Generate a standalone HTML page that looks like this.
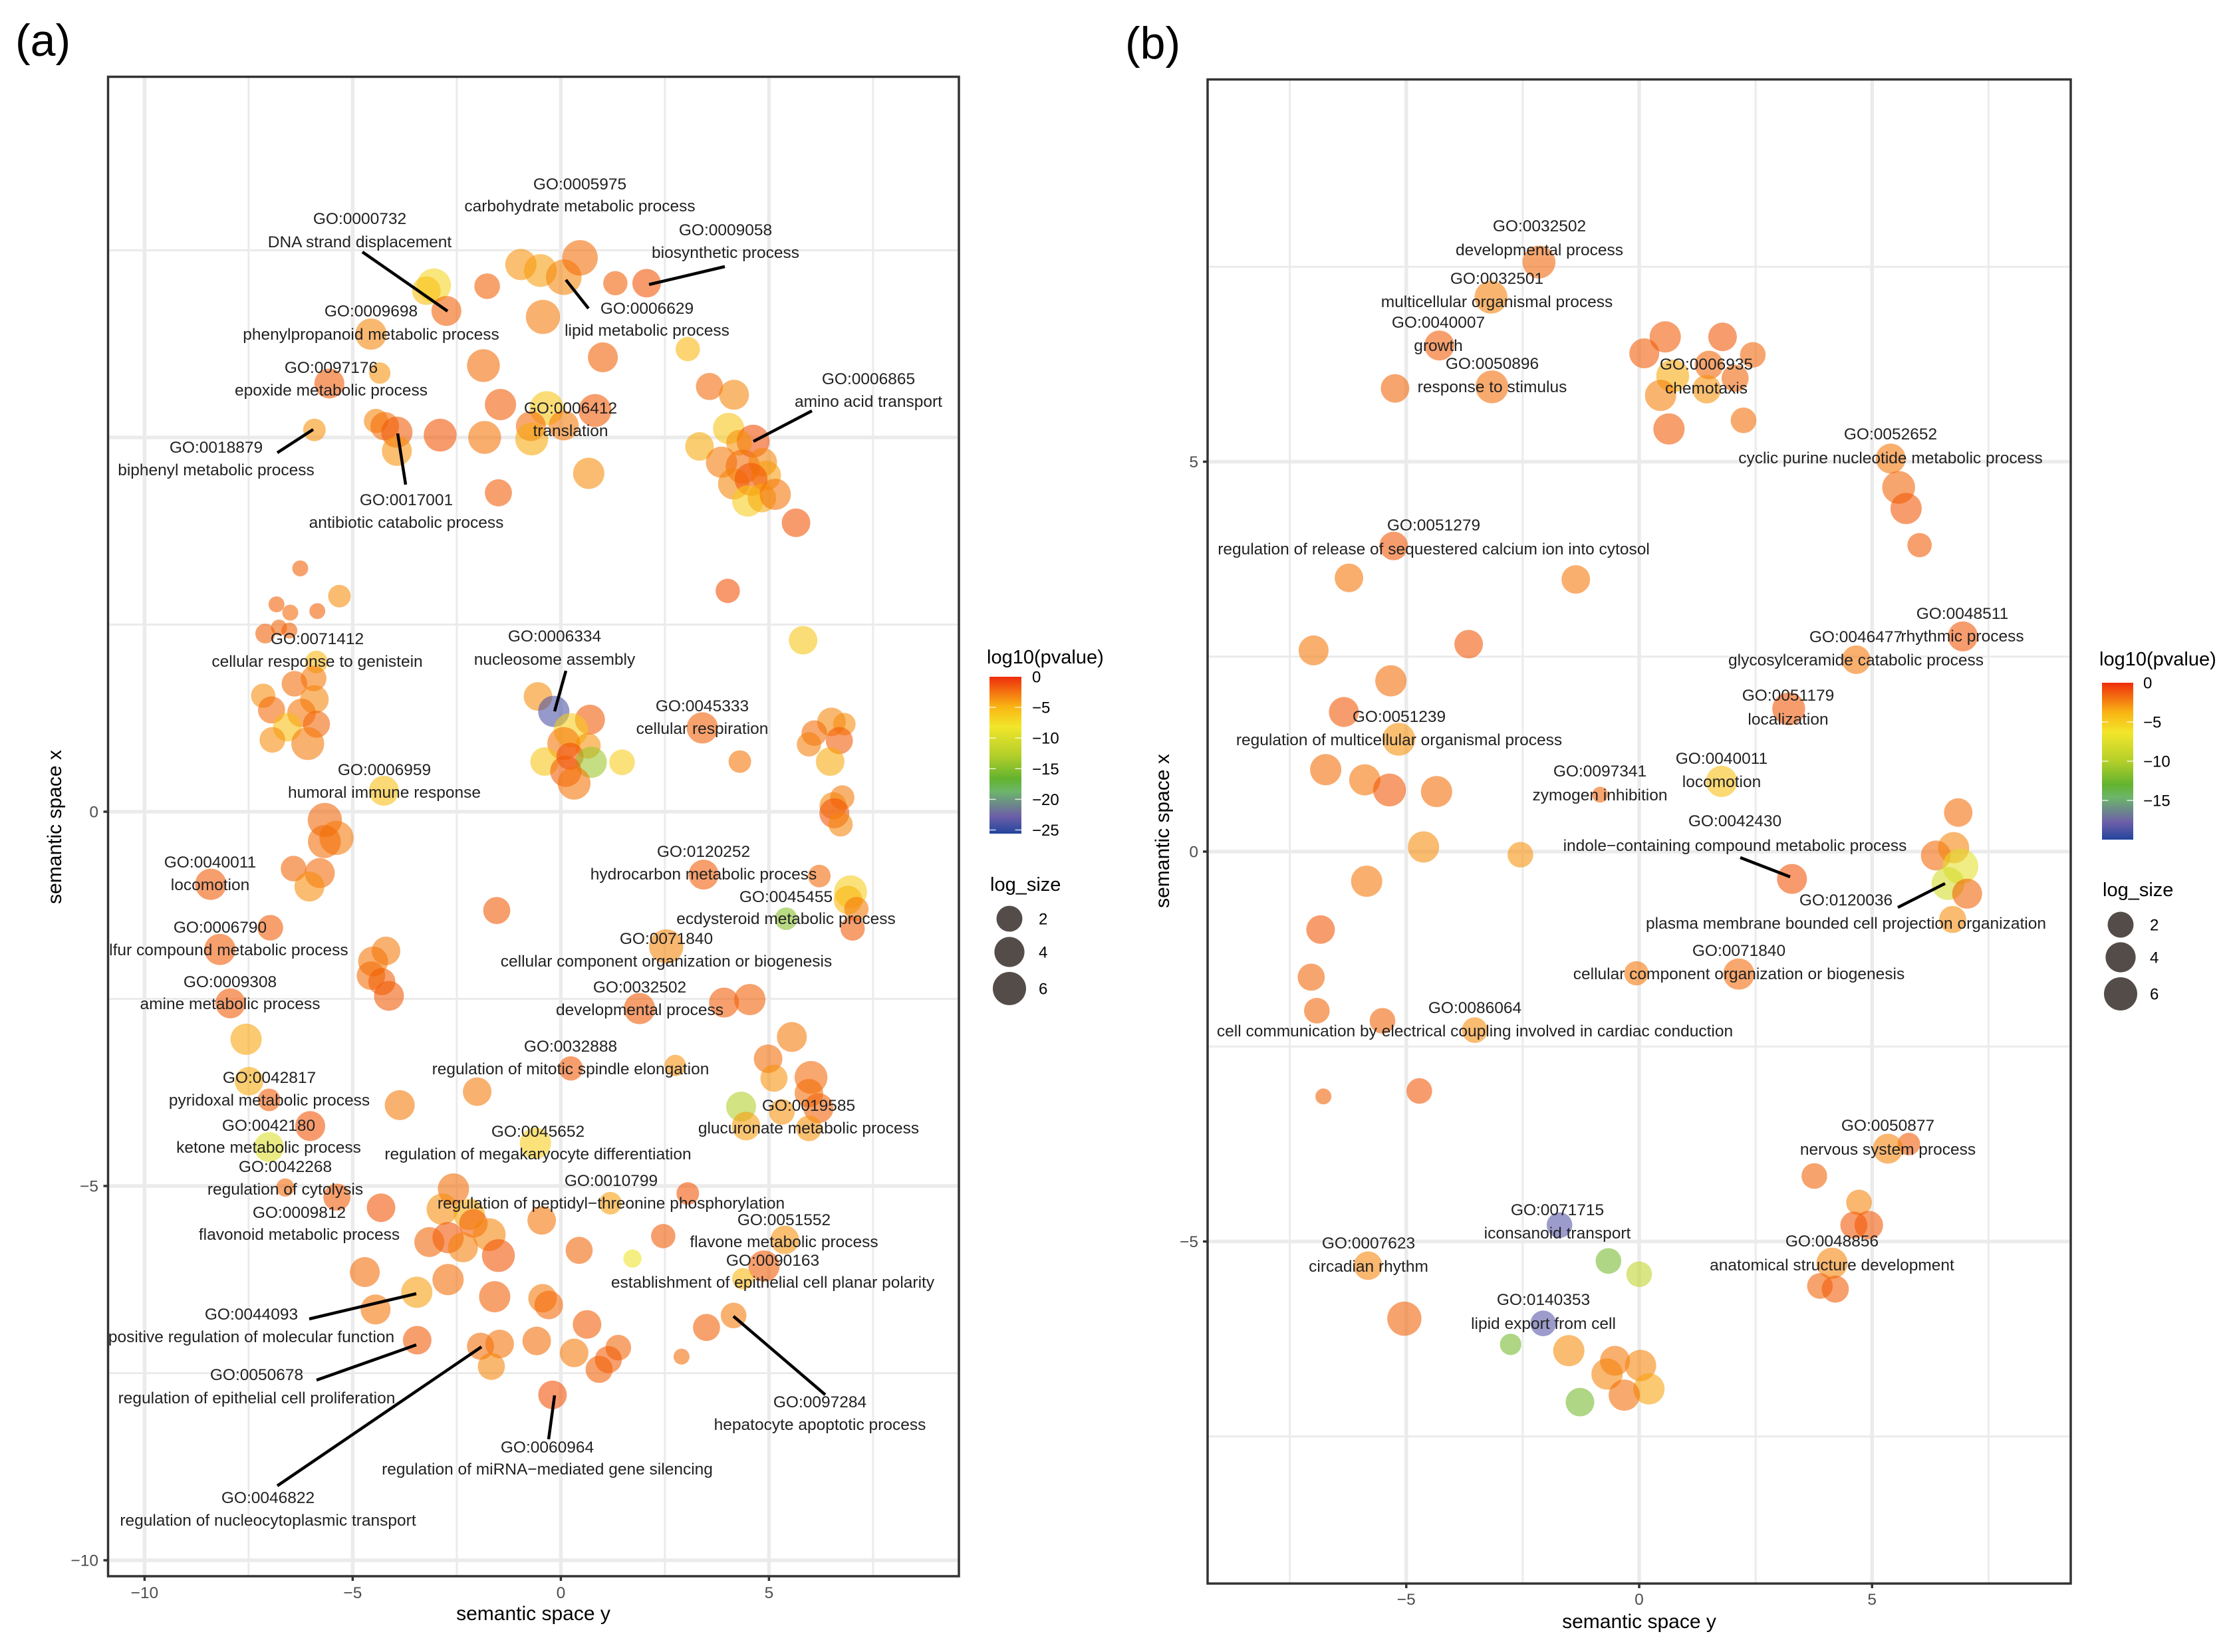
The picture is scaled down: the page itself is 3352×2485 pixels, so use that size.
<!DOCTYPE html>
<html lang="en">
<head>
<meta charset="utf-8">
<title>Semantic space GO term scatter plots</title>
<style>
html,body{margin:0;padding:0;background:#fff;}
svg{display:block;}
text{font-family:"Liberation Sans",sans-serif;}
.lb text{font-size:24.5px;fill:#222;text-anchor:middle;}
.tk{font-size:24.5px;fill:#4d4d4d;}
.at{font-size:30px;fill:#000;text-anchor:middle;}
.lt{font-size:29px;fill:#000;}
.ll{font-size:24px;fill:#000;}
.pl{font-size:68px;fill:#000;}
.ld{stroke:#000;stroke-width:4.5;fill:none;}
</style>
</head>
<body>
<svg id="chart" xmlns="http://www.w3.org/2000/svg" width="3352" height="2485" viewBox="0 0 3352 2485">
<defs>
<clipPath id="clipA"><rect x="162" y="116" width="1280" height="2255"/></clipPath>
<linearGradient id="barGrad" x1="0" y1="0" x2="0" y2="1">
<stop offset="0" stop-color="#ee2e0c"/><stop offset="0.19" stop-color="#f9b414"/><stop offset="0.317" stop-color="#f2e62a"/><stop offset="0.5" stop-color="#b4cf2a"/><stop offset="0.65" stop-color="#63b32e"/><stop offset="0.73" stop-color="#6cb66a"/><stop offset="0.89" stop-color="#6d5ea8"/><stop offset="1" stop-color="#22459c"/>
</linearGradient>
</defs>
<rect width="3352" height="2485" fill="#fff"/>
<text class="pl" x="23" y="84">(a)</text>
<text class="pl" x="1692" y="88">(b)</text>
<g id="gridA"></g>
<g id="gridB"></g>
<g id="pointsA"></g>
<g id="pointsB"></g>

<g class="lb" clip-path="url(#clipA)">
<g><text x="872" y="285">GO:0005975</text><text x="872" y="318">carbohydrate metabolic process</text></g>
<g><text x="541" y="337">GO:0000732</text><text x="541" y="372">DNA strand displacement</text></g>
<g><text x="1091" y="354">GO:0009058</text><text x="1091" y="388">biosynthetic process</text></g>
<g><text x="558" y="476">GO:0009698</text><text x="558" y="511">phenylpropanoid metabolic process</text></g>
<g><text x="973" y="472">GO:0006629</text><text x="973" y="505">lipid metabolic process</text></g>
<g><text x="498" y="561">GO:0097176</text><text x="498" y="595">epoxide metabolic process</text></g>
<g><text x="1306" y="578">GO:0006865</text><text x="1306" y="612">amino acid transport</text></g>
<g><text x="858" y="622">GO:0006412</text><text x="858" y="656">translation</text></g>
<g><text x="325" y="681">GO:0018879</text><text x="325" y="715">biphenyl metabolic process</text></g>
<g><text x="611" y="760">GO:0017001</text><text x="611" y="794">antibiotic catabolic process</text></g>
<g><text x="477" y="969">GO:0071412</text><text x="477" y="1003">cellular response to genistein</text></g>
<g><text x="834" y="965">GO:0006334</text><text x="834" y="1000">nucleosome assembly</text></g>
<g><text x="1056" y="1070">GO:0045333</text><text x="1056" y="1104">cellular respiration</text></g>
<g><text x="578" y="1166">GO:0006959</text><text x="578" y="1200">humoral immune response</text></g>
<g><text x="1058" y="1289">GO:0120252</text><text x="1058" y="1323">hydrocarbon metabolic process</text></g>
<g><text x="316" y="1305">GO:0040011</text><text x="316" y="1339">locomotion</text></g>
<g><text x="1182" y="1357">GO:0045455</text><text x="1182" y="1390">ecdysteroid metabolic process</text></g>
<g><text x="331" y="1403">GO:0006790</text><text x="331" y="1437">sulfur compound metabolic process</text></g>
<g><text x="1002" y="1420">GO:0071840</text><text x="1002" y="1454">cellular component organization or biogenesis</text></g>
<g><text x="346" y="1485">GO:0009308</text><text x="346" y="1518">amine metabolic process</text></g>
<g><text x="962" y="1493">GO:0032502</text><text x="962" y="1527">developmental process</text></g>
<g><text x="858" y="1582">GO:0032888</text><text x="858" y="1616">regulation of mitotic spindle elongation</text></g>
<g><text x="405" y="1629">GO:0042817</text><text x="405" y="1663">pyridoxal metabolic process</text></g>
<g><text x="1216" y="1671">GO:0019585</text><text x="1216" y="1705">glucuronate metabolic process</text></g>
<g><text x="404" y="1701">GO:0042180</text><text x="404" y="1734">ketone metabolic process</text></g>
<g><text x="809" y="1710">GO:0045652</text><text x="809" y="1744">regulation of megakaryocyte differentiation</text></g>
<g><text x="429" y="1763">GO:0042268</text><text x="429" y="1797">regulation of cytolysis</text></g>
<g><text x="919" y="1784">GO:0010799</text><text x="919" y="1818">regulation of peptidyl−threonine phosphorylation</text></g>
<g><text x="450" y="1832">GO:0009812</text><text x="450" y="1865">flavonoid metabolic process</text></g>
<g><text x="1179" y="1843">GO:0051552</text><text x="1179" y="1876">flavone metabolic process</text></g>
<g><text x="1162" y="1904">GO:0090163</text><text x="1162" y="1937">establishment of epithelial cell planar polarity</text></g>
<g><text x="378" y="1985">GO:0044093</text><text x="378" y="2019">positive regulation of molecular function</text></g>
<g><text x="386" y="2076">GO:0050678</text><text x="386" y="2111">regulation of epithelial cell proliferation</text></g>
<g><text x="1233" y="2117">GO:0097284</text><text x="1233" y="2151">hepatocyte apoptotic process</text></g>
<g><text x="823" y="2185">GO:0060964</text><text x="823" y="2218">regulation of miRNA−mediated gene silencing</text></g>
<g><text x="403" y="2261">GO:0046822</text><text x="403" y="2295">regulation of nucleocytoplasmic transport</text></g>
</g>
<g>
<line class="ld" x1="545" y1="379" x2="673" y2="468"/>
<line class="ld" x1="976" y1="428" x2="1090" y2="401"/>
<line class="ld" x1="851" y1="421" x2="885" y2="464"/>
<line class="ld" x1="1133" y1="664" x2="1221" y2="618"/>
<line class="ld" x1="471" y1="646" x2="417" y2="681"/>
<line class="ld" x1="598" y1="652" x2="610" y2="729"/>
<line class="ld" x1="851" y1="1009" x2="834" y2="1070"/>
<line class="ld" x1="465" y1="1984" x2="626" y2="1946"/>
<line class="ld" x1="476" y1="2076" x2="626" y2="2023"/>
<line class="ld" x1="417" y1="2235" x2="724" y2="2026"/>
<line class="ld" x1="825" y1="2165" x2="834" y2="2099"/>
<line class="ld" x1="1241" y1="2098" x2="1103" y2="1980"/>
</g>

<g class="lb">
<g><text x="2315" y="348">GO:0032502</text><text x="2315" y="384">developmental process</text></g>
<g><text x="2251" y="427">GO:0032501</text><text x="2251" y="462">multicellular organismal process</text></g>
<g><text x="2163" y="493">GO:0040007</text><text x="2163" y="528">growth</text></g>
<g><text x="2244" y="555">GO:0050896</text><text x="2244" y="590">response to stimulus</text></g>
<g><text x="2566" y="556">GO:0006935</text><text x="2566" y="592">chemotaxis</text></g>
<g><text x="2843" y="661">GO:0052652</text><text x="2843" y="697">cyclic purine nucleotide metabolic process</text></g>
<g><text x="2156" y="798">GO:0051279</text><text x="2156" y="834">regulation of release of sequestered calcium ion into cytosol</text></g>
<g><text x="2951" y="931">GO:0048511</text><text x="2951" y="965">rhythmic process</text></g>
<g><text x="2791" y="966">GO:0046477</text><text x="2791" y="1001">glycosylceramide catabolic process</text></g>
<g><text x="2689" y="1054">GO:0051179</text><text x="2689" y="1090">localization</text></g>
<g><text x="2104" y="1086">GO:0051239</text><text x="2104" y="1121">regulation of multicellular organismal process</text></g>
<g><text x="2406" y="1168">GO:0097341</text><text x="2406" y="1204">zymogen inhibition</text></g>
<g><text x="2589" y="1149">GO:0040011</text><text x="2589" y="1184">locomotion</text></g>
<g><text x="2609" y="1243">GO:0042430</text><text x="2609" y="1280">indole−containing compound metabolic process</text></g>
<g><text x="2776" y="1362">GO:0120036</text><text x="2776" y="1397">plasma membrane bounded cell projection organization</text></g>
<g><text x="2615" y="1438">GO:0071840</text><text x="2615" y="1473">cellular component organization or biogenesis</text></g>
<g><text x="2218" y="1524">GO:0086064</text><text x="2218" y="1559">cell communication by electrical coupling involved in cardiac conduction</text></g>
<g><text x="2839" y="1701">GO:0050877</text><text x="2839" y="1737">nervous system process</text></g>
<g><text x="2342" y="1828">GO:0071715</text><text x="2342" y="1863">iconsanoid transport</text></g>
<g><text x="2058" y="1878">GO:0007623</text><text x="2058" y="1913">circadian rhythm</text></g>
<g><text x="2755" y="1875">GO:0048856</text><text x="2755" y="1911">anatomical structure development</text></g>
<g><text x="2321" y="1963">GO:0140353</text><text x="2321" y="1999">lipid export from cell</text></g>
</g>
<g>
<line class="ld" x1="2617" y1="1290" x2="2692" y2="1319"/>
<line class="ld" x1="2854" y1="1365" x2="2925" y2="1329"/>
</g>

<rect x="162.5" y="115.5" width="1279.5" height="2255.5" fill="none" stroke="#333" stroke-width="3.5"/>
<rect x="1816" y="119.5" width="1298" height="2262.5" fill="none" stroke="#333" stroke-width="3.5"/>
<g id="axesA"></g>
<g id="axesB"></g>

<text class="at" x="802" y="2437">semantic space y</text>
<text class="at" transform="translate(92,1244) rotate(-90)">semantic space x</text>
<text class="at" x="2465" y="2449">semantic space y</text>
<text class="at" transform="translate(1758,1250) rotate(-90)">semantic space x</text>

<g>
<text class="lt" x="1484" y="998">log10(pvalue)</text>
<rect x="1488" y="1018" width="48" height="236" fill="url(#barGrad)"/>
<g id="barTicksA"></g>
</g>
<g>
<text class="lt" x="3157" y="1001">log10(pvalue)</text>
<rect x="3161" y="1027" width="47" height="236" fill="url(#barGrad)"/>
<g id="barTicksB"></g>
</g>
<text class="lt" x="1489" y="1340">log_size</text>
<text class="lt" x="3162" y="1348">log_size</text>
<g id="sizeA"></g>
<g id="sizeB"></g>
</svg>

<script>
// Panel (a) values: semantic space y, semantic space x, log10(pvalue), log_size
const aX = [
-3.05,-3.23,-2.75,-1.77,-0.96,-0.49,0.07,0.46,1.31,2.06,
-4.56,-0.43,-4.35,-5.56,-1.86,1.01,3.05,-1.45,-0.34,0.82,
3.57,4.16,-5.92,-4.44,-4.23,-3.94,-3.94,-2.90,-1.83,-0.72,
-0.70,0.07,0.67,-1.50,4.03,3.33,4.62,4.28,3.86,4.37,
4.85,4.93,4.15,4.57,4.49,4.83,5.15,5.65,4.01,5.82,
-6.26,-5.32,-6.83,-6.50,-5.85,-6.77,-7.10,-6.52,-5.87,-5.94,
-6.40,-7.15,-5.92,-6.95,-6.23,-6.57,-5.87,-6.93,-6.08,-0.55,
-0.17,0.70,0.24,0.07,0.65,-0.39,0.22,0.73,1.47,0.12,
0.32,3.40,4.30,6.50,6.81,6.09,5.96,6.69,6.47,-4.25,
-5.67,-5.39,-5.68,6.76,6.54,6.57,6.72,
-6.42,-5.79,-6.04,-8.41,3.43,6.21,6.96,6.90,7.10,5.41,
7.01,-1.54,-6.98,-8.19,-4.20,-4.51,-4.56,-4.30,-4.13,2.53,
-7.94,3.92,4.54,1.89,-7.56,5.55,4.98,5.12,6.01,-7.49,
0.24,2.75,-7.01,-2.01,-3.87,5.96,6.19,5.31,4.33,4.45,
5.96,-6.02,-7.01,-0.61,-6.62,-5.38,-2.58,-4.32,3.05,1.19,
-2.85,-2.20,-2.10,-1.72,-2.71,-3.16,-2.35,-0.46,-1.50,0.44,
2.46,1.72,5.38,4.88,4.37,-4.71,-2.71,-3.46,-4.45,-1.59,
-0.44,-0.29,0.63,4.15,3.50,-3.45,-1.93,-1.47,-0.58,-1.67,
0.32,1.38,1.14,0.92,2.90,-0.20];
const aY = [
7.03,6.96,6.69,7.02,7.31,7.23,7.14,7.40,7.06,7.06,
6.38,6.61,5.86,5.72,5.96,6.07,6.18,5.44,5.39,5.36,
5.68,5.57,5.10,5.22,5.15,5.07,4.82,5.03,5.00,5.15,
4.98,5.16,4.52,4.26,5.12,4.88,4.95,4.93,4.67,4.61,
4.67,4.49,4.38,4.44,4.15,4.19,4.24,3.86,2.95,2.29,
3.25,2.88,2.77,2.66,2.68,2.46,2.38,2.42,2.00,1.78,
1.71,1.55,1.50,1.36,1.32,1.13,1.17,0.96,0.91,1.54,
1.34,1.23,1.09,0.91,0.88,0.67,0.74,0.66,0.66,0.54,
0.38,1.12,0.67,1.20,1.17,1.05,0.90,0.95,0.67,0.28,
-0.11,-0.35,-0.40,0.19,0.08,-0.02,-0.17,
-0.76,-0.82,-1.00,-0.97,-0.84,-0.86,-1.07,-1.18,-1.30,-1.43,
-1.56,-1.32,-1.55,-1.84,-1.86,-2.00,-2.19,-2.27,-2.46,-1.80,
-2.56,-2.55,-2.51,-2.63,-3.04,-3.01,-3.30,-3.56,-3.55,-3.60,
-3.43,-3.39,-3.85,-3.74,-3.92,-3.76,-3.96,-4.01,-3.94,-4.20,
-4.23,-4.20,-4.48,-4.43,-5.02,-5.15,-5.04,-5.29,-5.10,-5.23,
-5.31,-5.38,-5.50,-5.65,-5.69,-5.75,-5.82,-5.46,-5.93,-5.86,
-5.67,-5.97,-5.72,-6.07,-6.24,-6.15,-6.25,-6.42,-6.65,-6.48,
-6.50,-6.59,-6.85,-6.73,-6.89,-7.06,-7.14,-7.11,-7.07,-7.41,
-7.23,-7.16,-7.32,-7.45,-7.28,-7.79];
const aP = [
-7.5,-6,-2,-2,-4,-4.5,-3.5,-2.5,-2,-1.5,
-3.5,-3,-4,-1.7,-2.5,-2,-5.5,-1.8,-6.5,-1.7,
-2.3,-3.5,-4,-3.5,-2.5,-1.7,-4,-1.5,-2.8,-2.3,
-5,-3,-3.8,-1.8,-6.5,-5,-1.2,-4,-3,-2.5,
-3.5,-4.5,-3.5,-1.5,-7,-5,-2.8,-1.5,-1.4,-6.5,
-2,-3.8,-2,-2.3,-2,-2.2,-2,-2,-5.5,-3,
-2.5,-3.8,-3.5,-2.3,-2.8,-6,-2.2,-3.8,-3,-3.8,
-24,-1.7,-7,-2.8,-4,-6.5,-1.3,-14,-7,-1.8,
-2.8,-2,-2.8,-3.5,-3.8,-2.5,-3.2,-1.8,-5,-6,
-2.2,-3,-2.5,-3,-3.5,-1.5,-3.5,
-2.2,-2.3,-3.8,-1.7,-1.8,-2.3,-7,-5.5,-3,-15,
-1.7,-1.7,-1.8,-1.8,-3,-2.8,-2.5,-2,-1.7,-3.5,
-1.7,-1.8,-2,-1.7,-4.8,-3,-2.5,-4,-2.3,-5,
-1.7,-4,-1.8,-3,-3,-2.5,-2,-4,-13,-4.5,
-4,-1.5,-10.2,-7,-2.3,-1.8,-2.5,-1.5,-1.5,-4.5,
-3.8,-5,-1.8,-3.5,-1.5,-2.2,-3.3,-2.8,-1.5,-2.2,
-1.7,-9,-4,-1.7,-5.5,-2.5,-2.5,-4.5,-2.8,-2,
-3,-2.3,-1.8,-3,-2,-1.7,-2.5,-2.7,-2.5,-3.5,
-3,-2.2,-1.8,-2,-2.5,-1.3];
const aS = [
6.7,3.2,3.9,1.9,4.7,5.7,7.7,7.7,1.4,3.2,
4.7,6.7,0.6,3.9,5.7,3.9,1.4,4.7,6.7,5.7,
2.5,3.9,0.9,1.4,3.2,4.7,3.9,5.7,5.7,3.9,
5.7,3.9,4.7,2.5,4.7,3.2,5.7,1.9,4.7,6.7,
3.2,3.9,4.7,5.7,4.7,3.2,4.7,3.2,1.4,3.2,
0,0.9,0,0,0,0,0.3,0,0.9,1.9,
1.9,1.4,3.2,2.5,3.2,3.2,2.5,1.9,5.7,3.2,
4.7,3.9,6.7,5.7,1.9,3.2,2.5,4.7,1.9,4.7,
5.7,4.7,0.9,3.2,0.9,1.9,1.4,2.5,3.2,3.9,
6.7,6.7,5.7,1.4,2.5,3.9,1.4,
1.9,3.9,3.9,4.7,3.9,0.9,5.7,3.2,1.4,0.9,
1.4,2.5,1.9,4.7,3.2,3.9,3.2,2.5,3.9,6.7,
3.9,3.9,4.7,4.7,4.7,3.9,3.2,2.5,5.7,3.2,
1.4,0.6,0.9,3.2,3.9,3.2,3.9,1.9,3.9,3.2,
1.9,3.9,3.9,4.7,0.1,2.5,4.7,3.2,0.9,0.9,
4.7,4.7,3.2,5.7,4.7,3.9,3.9,3.2,5.7,2.5,
1.4,0.1,3.2,4.7,0.6,3.9,4.7,4.7,3.9,4.7,
3.2,3.2,3.2,1.9,2.5,3.2,2.5,3.2,3.2,2.5,
3.2,1.9,2.5,2.5,0,3.2];

// Panel (b) values
const bX = [
-2.15,-3.18,-4.29,-5.24,-3.16,0.56,0.11,1.79,2.44,1.50,
0.72,2.06,0.46,1.45,2.24,0.64,5.40,5.57,5.73,6.02,
-5.27,-6.23,-1.36,-6.99,-3.66,6.95,4.66,-5.33,-6.34,3.21,
-5.16,-6.73,-5.89,-5.36,-4.35,1.77,-0.84,6.85,-4.63,-2.55,
-5.85,3.28,6.37,6.75,6.90,6.63,7.04,6.73,-6.84,-7.04,
-6.92,-5.51,-3.53,-0.06,2.14,-4.72,-6.78,5.79,5.34,3.76,
4.72,4.61,4.93,4.14,3.88,4.21,-1.71,-0.66,0,-5.82,
-5.04,-2.06,-2.76,-1.51,-0.52,0.03,-0.69,0.21,-0.32,-1.27];
const bY = [
7.56,7.11,6.49,5.94,5.96,6.60,6.39,6.60,6.37,6.24,
6.10,6.07,5.85,5.93,5.53,5.42,5.04,4.67,4.40,3.93,
3.92,3.51,3.49,2.58,2.66,2.76,2.46,2.19,1.79,1.83,
1.44,1.05,0.92,0.79,0.77,0.90,0.73,0.50,0.06,-0.04,
-0.38,-0.35,-0.05,0.05,-0.19,-0.41,-0.54,-0.87,-1.00,-1.61,
-2.04,-2.17,-2.29,-1.56,-1.57,-3.07,-3.14,-3.75,-3.81,-4.16,
-4.50,-4.79,-4.79,-5.28,-5.57,-5.61,-4.79,-5.25,-5.42,-5.31,
-5.99,-6.05,-6.32,-6.40,-6.53,-6.59,-6.70,-6.89,-6.97,-7.06];
const bP = [
-1.7,-2.6,-1.4,-1.7,-2,-1.4,-1.4,-1.2,-1.7,-1.7,
-3.9,-1.7,-2.6,-3.1,-2,-1.4,-2.3,-1.7,-1.3,-1.4,
-1.3,-2.2,-2.3,-2.3,-1.3,-1.2,-2.3,-2,-1.3,-1.3,
-3.1,-2,-2.2,-1.25,-2,-4.7,-1.7,-2,-3,-3.1,
-2.3,-1.1,-1.8,-2.7,-7.6,-8.4,-1.6,-3,-1.25,-1.7,
-1.7,-1.6,-3,-2.3,-1.8,-1.3,-1.6,-1.4,-2.7,-1.6,
-2.7,-1.3,-1.3,-2.7,-1.6,-1.4,-18.4,-12.4,-9.4,-2.7,
-1.6,-18.4,-12.4,-3,-2.3,-2.7,-2.7,-3.7,-2,-12.4];
const bS = [
5.7,5.7,3.9,3.2,5.7,4.7,3.9,3.2,1.9,3.2,
5.7,2.5,4.7,3.2,1.9,4.7,3.9,5.7,4.7,1.4,
3.2,3.2,3.2,3.9,3.2,3.9,3.2,4.7,3.9,5.7,
5.7,4.7,4.7,5.7,4.7,4.7,0,3.2,4.7,1.9,
4.7,3.9,3.9,4.7,7.7,5.7,3.9,2.5,3.2,2.5,
1.9,1.9,1.9,1.4,4.7,1.9,0,0.9,3.9,1.9,
1.9,2.5,3.2,4.7,1.9,2.5,1.9,1.9,1.9,3.2,
6.7,1.9,0.6,4.7,3.9,4.7,4.7,4.7,4.7,3.2];

// Axis ticks and legend breaks
const aXMajor = [-10,-5,0,5];
const aXMinor = [-7.5,-2.5,2.5,7.5];
const aYMajor = [-10,-5,0,5];
const aYMinor = [-7.5,-2.5,2.5,7.5];
const aXTickLabels = [-10,-5,0,5];
const aYTickLabels = [-10,-5,0];
const bXMajor = [-5,0,5];
const bXMinor = [-7.5,-2.5,2.5,7.5];
const bYMajor = [-5,0,5];
const bYMinor = [-7.5,-2.5,2.5,7.5];
const bXTickLabels = [-5,0,5];
const bYTickLabels = [-5,0,5];
const aColorBreaks = [0,-5,-10,-15,-20,-25];
const bColorBreaks = [0,-5,-10,-15];
const sizeBreaks = [2,4,6];

const NS = 'http://www.w3.org/2000/svg';
function ax(v){return 843.4+62.6*v;}
function ay(v){return 1221-112.6*v;}
function bx(v){return 2465+70.05*v;}
function by(v){return 1281-117.3*v;}
function radius(s){return 12+5.3*Math.sqrt(s);}
function fmt(v){return v<0?'\u2212'+Math.abs(v):String(v);}

const stopAt = [0,0.216,0.34,0.5,0.65,0.73,0.89,1];
const stopRgb = [[238,46,0],[249,182,12],[242,230,42],[180,207,42],[99,179,46],[108,182,106],[100,90,170],[34,69,156]];
function colorOf(v,limit){
  const f=Math.min(1,Math.max(0,v/limit));
  let i=0;
  while(i<stopAt.length-2&&f>stopAt[i+1])i++;
  const t=(f-stopAt[i])/(stopAt[i+1]-stopAt[i]);
  const c=[0,1,2].map(function(k){return Math.round(stopRgb[i][k]+(stopRgb[i+1][k]-stopRgb[i][k])*t);});
  return 'rgb('+c.join(',')+')';
}

function mk(tag,parent){
  const el=document.createElementNS(NS,tag);
  parent.appendChild(el);
  return el;
}

function drawGrid(parentId,xMajor,xMinor,yMajor,yMinor,fx,fy,x0,x1,y0,y1){
  const g=document.getElementById(parentId);
  function line(x1p,y1p,x2p,y2p,w){
    const l=mk('line',g);
    l.setAttribute('x1',x1p);l.setAttribute('y1',y1p);l.setAttribute('x2',x2p);l.setAttribute('y2',y2p);
    l.setAttribute('stroke','#ebebeb');l.setAttribute('stroke-width',w);
    
    
  }
  xMinor.forEach(function(v){line(fx(v),y0,fx(v),y1,3);});
  yMinor.forEach(function(v){line(x0,fy(v),x1,fy(v),3);});
  xMajor.forEach(function(v){line(fx(v),y0,fx(v),y1,5.5);});
  yMajor.forEach(function(v){line(x0,fy(v),x1,fy(v),5.5);});
}

function drawPoints(parentId,xs,ys,ps,ss,fx,fy,limit){
  const g=document.getElementById(parentId);
  xs.forEach(function(v,i){
    const c=mk('circle',g);
    c.setAttribute('cx',fx(v).toFixed(1));
    c.setAttribute('cy',fy(ys[i]).toFixed(1));
    c.setAttribute('r',radius(ss[i]).toFixed(1));
    c.setAttribute('fill',colorOf(ps[i],limit));
    c.setAttribute('fill-opacity','0.58');
    
    
  });
}

function drawAxes(parentId,xLabels,yLabels,fx,fy,bottom,left,xBase,yRight){
  const g=document.getElementById(parentId);
  xLabels.forEach(function(v){
    const t=mk('line',g);
    t.setAttribute('x1',fx(v));t.setAttribute('x2',fx(v));t.setAttribute('y1',bottom);t.setAttribute('y2',bottom+7);
    t.setAttribute('stroke','#333');t.setAttribute('stroke-width','3.5');
    
    
    const s=mk('text',g);
    s.setAttribute('class','tk');s.setAttribute('x',fx(v));s.setAttribute('y',xBase);s.setAttribute('text-anchor','middle');
    s.textContent=fmt(v);
    
    
  });
  yLabels.forEach(function(v){
    const t=mk('line',g);
    t.setAttribute('x1',left-7);t.setAttribute('x2',left);t.setAttribute('y1',fy(v));t.setAttribute('y2',fy(v));
    t.setAttribute('stroke','#333');t.setAttribute('stroke-width','3.5');
    
    
    const s=mk('text',g);
    s.setAttribute('class','tk');s.setAttribute('x',yRight);s.setAttribute('y',fy(v)+8.5);s.setAttribute('text-anchor','end');
    s.textContent=fmt(v);
    
    
  });
}

function drawBarTicks(parentId,breaks,limit,top,height,left,width,labelX){
  const g=document.getElementById(parentId);
  breaks.forEach(function(v){
    const y=top+height*(v/limit);
    if(v!==0){
      [[left,left+9.5],[left+width-9.5,left+width]].forEach(function(seg){
        const t=mk('line',g);
        t.setAttribute('x1',seg[0]);t.setAttribute('x2',seg[1]);t.setAttribute('y1',y);t.setAttribute('y2',y);
        t.setAttribute('stroke','#fff');t.setAttribute('stroke-opacity','0.8');t.setAttribute('stroke-width','1.5');
        
        
      });
    }
    const s=mk('text',g);
    s.setAttribute('class','ll');s.setAttribute('x',labelX);s.setAttribute('y',y+8.5);
    s.textContent=fmt(v);
    
    
  });
}

function drawSizeLegend(parentId,cx,labelX,firstY,secondY,thirdY){
  const g=document.getElementById(parentId);
  const rows=[firstY,secondY,thirdY];
  sizeBreaks.forEach(function(v,i){
    const c=mk('circle',g);
    c.setAttribute('cx',cx);c.setAttribute('cy',rows[i]);c.setAttribute('r',radius(v).toFixed(1));
    c.setAttribute('fill','#534c49');
    
    
    const s=mk('text',g);
    s.setAttribute('class','ll');s.setAttribute('x',labelX);s.setAttribute('y',rows[i]+8.5);
    s.textContent=String(v);
    
    
  });
}

const aLimit=-25.6;
const bLimit=-20;
drawGrid('gridA',aXMajor,aXMinor,aYMajor,aYMinor,ax,ay,162.5,1442,115.5,2371);
drawGrid('gridB',bXMajor,bXMinor,bYMajor,bYMinor,bx,by,1816,3114,119.5,2382);
drawPoints('pointsA',aX,aY,aP,aS,ax,ay,aLimit);
drawPoints('pointsB',bX,bY,bP,bS,bx,by,bLimit);
drawAxes('axesA',aXTickLabels,aYTickLabels,ax,ay,2371,162.5,2404,148);
drawAxes('axesB',bXTickLabels,bYTickLabels,bx,by,2382,1816,2414,1802);
drawBarTicks('barTicksA',aColorBreaks,aLimit,1018,236,1488,48,1552);
drawBarTicks('barTicksB',bColorBreaks,bLimit,1027,236,3161,47,3223);
drawSizeLegend('sizeA',1518,1562,1382,1432,1487);
drawSizeLegend('sizeB',3189,3233,1391,1440,1495);
</script>
</body>
</html>
